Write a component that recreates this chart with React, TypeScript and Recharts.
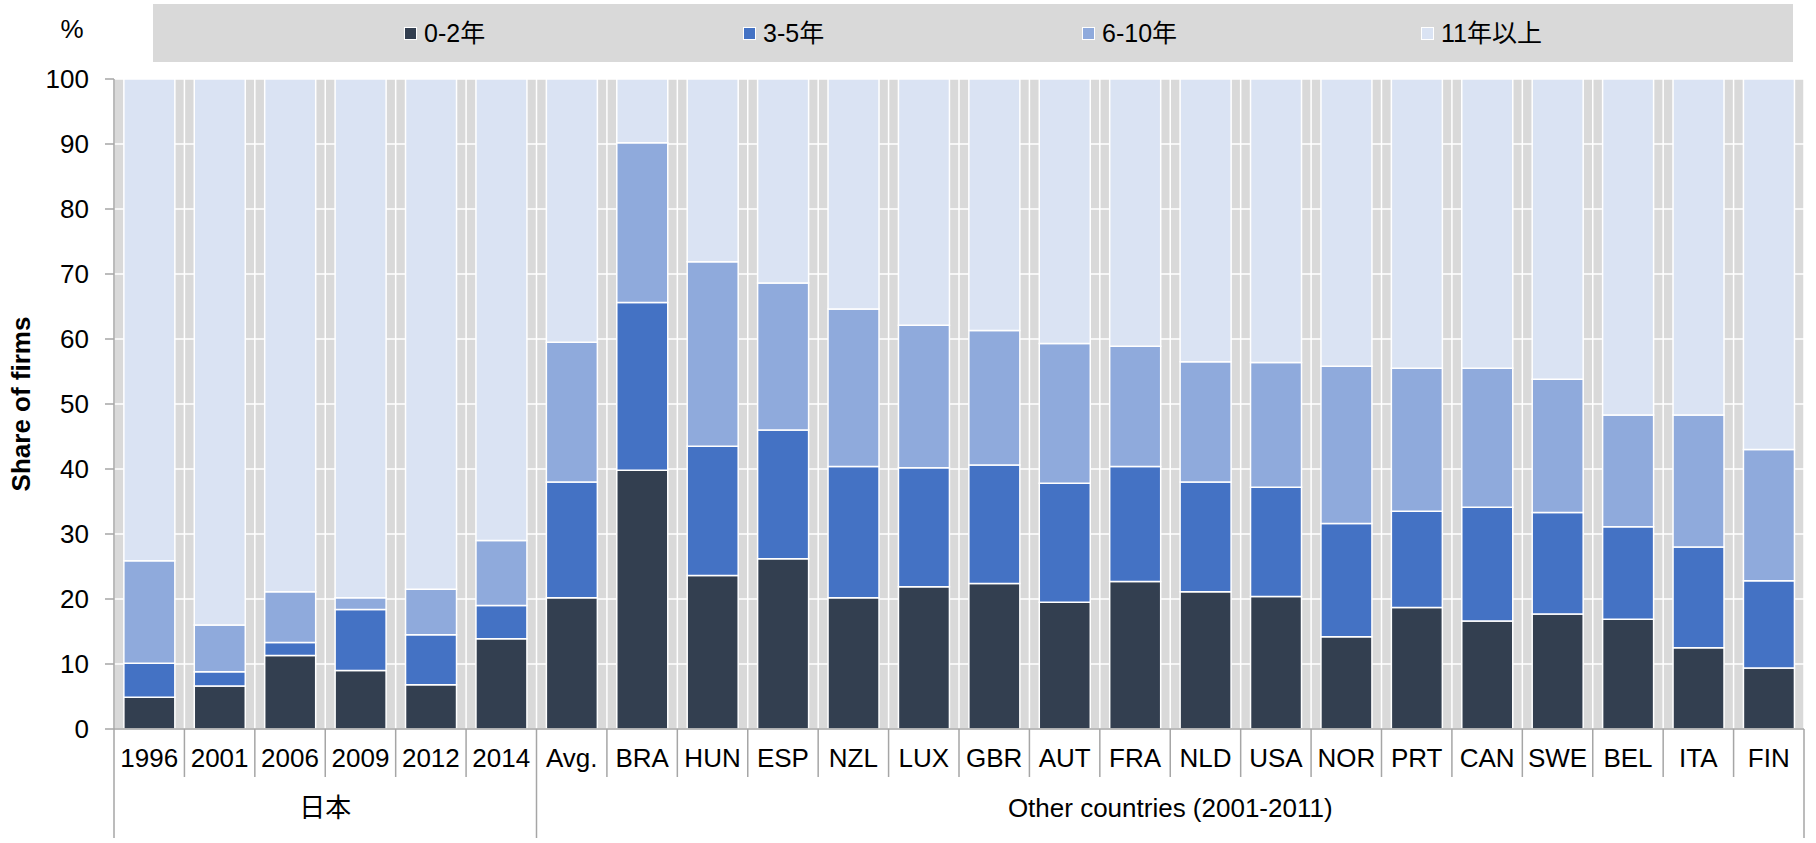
import React from "react";
import { BarChart, Bar, XAxis, YAxis, CartesianGrid } from "recharts";

const FONT = '"Liberation Sans", Arial, "Noto Sans CJK JP", sans-serif';

const categories = [
  "1996", "2001", "2006", "2009", "2012", "2014",
  "Avg.", "BRA", "HUN", "ESP", "NZL", "LUX", "GBR", "AUT", "FRA",
  "NLD", "USA", "NOR", "PRT", "CAN", "SWE", "BEL", "ITA", "FIN",
];

const groupLabels = ["日本", "Other countries (2001-2011)"];
const groupSizes = [6, 18];

const seriesNames = ["0-2年", "3-5年", "6-10年", "11年以上"];
const seriesColors = ["#333F50", "#4472C4", "#8FAADC", "#DAE3F3"];

const age0to2 = [
  4.9, 6.6, 11.3, 9.0, 6.8, 13.9,
  20.2, 39.8, 23.6, 26.2, 20.2, 21.9, 22.4, 19.5, 22.7,
  21.1, 20.4, 14.2, 18.7, 16.6, 17.7, 16.9, 12.5, 9.4,
];
const age3to5 = [
  5.2, 2.2, 2.0, 9.4, 7.7, 5.1,
  17.8, 25.8, 19.9, 19.8, 20.2, 18.3, 18.2, 18.3, 17.7,
  16.9, 16.8, 17.4, 14.8, 17.5, 15.6, 14.2, 15.5, 13.4,
];
const age6to10 = [
  15.8, 7.2, 7.8, 1.8, 7.0, 10.0,
  21.5, 24.6, 28.4, 22.6, 24.2, 21.9, 20.7, 21.5, 18.5,
  18.5, 19.2, 24.2, 22.0, 21.4, 20.5, 17.2, 20.3, 20.2,
];
const age11plus = [
  74.1, 84.0, 78.9, 79.8, 78.5, 71.0,
  40.5, 9.8, 28.1, 31.4, 35.4, 37.9, 38.7, 40.7, 41.1,
  43.5, 43.6, 44.2, 44.5, 44.5, 46.2, 51.7, 51.7, 57.0,
];

const yTicks = [0, 10, 20, 30, 40, 50, 60, 70, 80, 90, 100];

const seriesKeys = ["a", "b", "c", "d"];
const seriesValues = [age0to2, age3to5, age6to10, age11plus];

const rows = categories.map((name, i) => {
  const row: Record<string, string | number> = { name };
  seriesKeys.forEach((k, s) => {
    row[k] = seriesValues[s][i];
  });
  return row;
});

const W = 1816;
const H = 843;
const Y_AXIS_W = 114;
const RIGHT = 12;
const BAND = (W - Y_AXIS_W - RIGHT) / categories.length;
const AXIS_GRAY = "#A6A6A6";

// first index of each group
const groupStarts = groupSizes.map((_, g) =>
  groupSizes.slice(0, g).reduce((s, n) => s + n, 0)
);

function CategoryTick(props: any) {
  const { x, y, payload, index } = props;
  const half = BAND / 2;
  const isStart = groupStarts.includes(index);
  const isLast = index === categories.length - 1;
  return (
    <g>
      <text
        x={x}
        y={y + 29}
        textAnchor="middle"
        dominantBaseline="central"
        fontSize={26}
        fontFamily={FONT}
        fill="#000"
      >
        {payload.value}
      </text>
      <line
        x1={x - half}
        x2={x - half}
        y1={y}
        y2={y + (isStart ? 109 : 48)}
        stroke={AXIS_GRAY}
        strokeWidth={1.5}
      />
      {isLast && (
        <line
          x1={x + half}
          x2={x + half}
          y1={y}
          y2={y + 109}
          stroke={AXIS_GRAY}
          strokeWidth={1.5}
        />
      )}
    </g>
  );
}

function GroupTick(props: any) {
  const { x, y, index } = props;
  const g = groupStarts.findIndex(
    (s, k) => index >= s && index < s + groupSizes[k]
  );
  if (g < 0) return null;
  const n = groupSizes[g];
  const s = groupStarts[g];
  let cx: number | null = null;
  if (n % 2 === 0 && index === s + n / 2 - 1) cx = x + BAND / 2;
  if (n % 2 === 1 && index === s + (n - 1) / 2) cx = x;
  if (cx === null) return null;
  return (
    <text
      x={cx}
      y={y + 31}
      textAnchor="middle"
      dominantBaseline="central"
      fontSize={26}
      fontFamily={FONT}
      fill="#000"
    >
      {groupLabels[g]}
    </text>
  );
}

export default function App() {
  return (
    <div
      style={{
        position: "absolute",
        left: 0,
        top: 0,
        width: W,
        height: H,
        background: "#fff",
        fontFamily: FONT,
      }}
    >
      <BarChart
        width={W}
        height={H}
        data={rows}
        margin={{ top: 79, right: RIGHT, bottom: 0, left: 0 }}
        barCategoryGap="14%"
      >
        <CartesianGrid
          fill="#D9D9D9"
          stroke="#FFFFFF"
          strokeWidth={1.5}
          verticalCoordinatesGenerator={({ offset }: any) =>
            Array.from(
              { length: categories.length + 1 },
              (_, i) => offset.left + (i * offset.width) / categories.length
            )
          }
        />
        <XAxis
          dataKey="name"
          height={48}
          interval={0}
          tickSize={0}
          tickMargin={0}
          tickLine={false}
          axisLine={{ stroke: AXIS_GRAY, strokeWidth: 1.5 }}
          tick={<CategoryTick />}
        />
        <XAxis
          xAxisId="grp"
          dataKey="name"
          height={66}
          interval={0}
          tickSize={0}
          tickMargin={0}
          tickLine={false}
          axisLine={false}
          tick={<GroupTick />}
        />
        <YAxis
          width={Y_AXIS_W}
          domain={[0, 100]}
          ticks={yTicks}
          interval={0}
          tickSize={9}
          tickMargin={16}
          axisLine={{ stroke: AXIS_GRAY, strokeWidth: 1.5 }}
          tickLine={{ stroke: AXIS_GRAY, strokeWidth: 1.5 }}
          tick={{ fontSize: 26, fill: "#000", fontFamily: FONT }}
        />
        {seriesKeys.map((k, s) => (
          <Bar
            key={k}
            dataKey={k}
            name={seriesNames[s]}
            stackId="age"
            fill={seriesColors[s]}
            stroke="#FFFFFF"
            strokeWidth={1.5}
            isAnimationActive={false}
          />
        ))}
      </BarChart>

      <div
        style={{
          position: "absolute",
          left: 153,
          top: 4,
          width: 1640,
          height: 58,
          background: "#D9D9D9",
          display: "flex",
          alignItems: "center",
          paddingLeft: 251,
          boxSizing: "border-box",
        }}
      >
        {seriesNames.map((n, s) => (
          <div
            key={n}
            style={{ width: 339, display: "flex", alignItems: "center" }}
          >
            <span
              style={{
                width: 13,
                height: 13,
                boxSizing: "border-box",
                border: "1.5px solid #fff",
                background: seriesColors[s],
                marginRight: 7,
              }}
            />
            <span style={{ fontSize: 25, color: "#000", lineHeight: 1 }}>
              {n}
            </span>
          </div>
        ))}
      </div>

      <div
        style={{
          position: "absolute",
          left: 72,
          top: 29,
          transform: "translate(-50%, -50%)",
          fontSize: 26,
          lineHeight: 1,
          color: "#000",
        }}
      >
        %
      </div>
      <div
        style={{
          position: "absolute",
          left: 21,
          top: 404,
          transform: "translate(-50%, -50%) rotate(-90deg)",
          fontSize: 26,
          fontWeight: "bold",
          whiteSpace: "nowrap",
          lineHeight: 1,
          color: "#000",
        }}
      >
        Share of firms
      </div>
    </div>
  );
}
